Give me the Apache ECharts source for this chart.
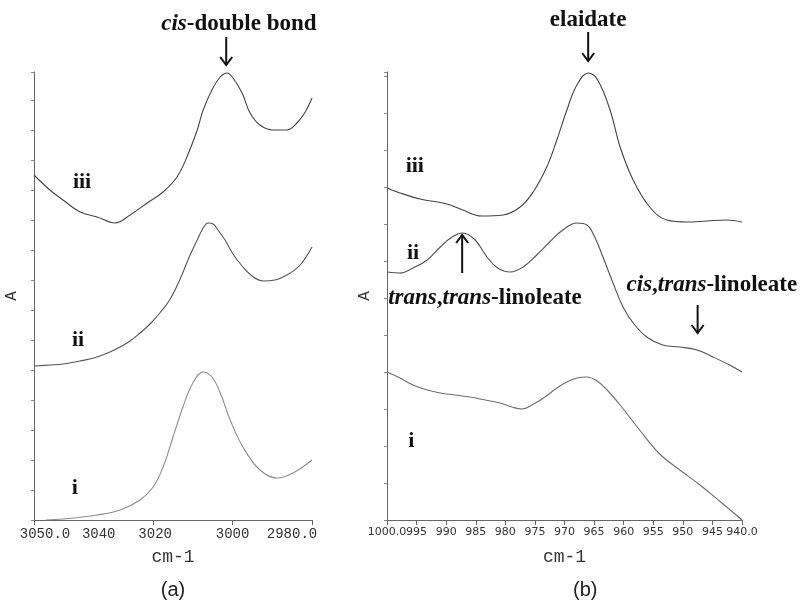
<!DOCTYPE html>
<html>
<head>
<meta charset="utf-8">
<script src="https://cdn.jsdelivr.net/npm/echarts@6/dist/echarts.min.js"></script>
<style>
  html, body { margin: 0; background: #fff; }
  #chart { width: 807px; height: 600px; }
</style>
</head>
<body>
<div id="chart"></div>
<script>
// (a) 3050-2980 cm-1 region, [wavenumber, absorbance (arb.)]
const aIii = [[3050, 3.45], [3046, 3.30], [3042.7, 3.20], [3038.4, 3.08], [3034.1, 3.03], [3029.6, 2.97], [3025.8, 3.05], [3021.5, 3.17], [3017.5, 3.28], [3014, 3.43], [3011.5, 3.63], [3008.9, 3.90], [3007.4, 4.10], [3005.2, 4.30], [3003.1, 4.43], [3001.4, 4.47], [2999.9, 4.42], [2997.6, 4.27], [2995.6, 4.07], [2993.1, 3.95], [2989.8, 3.90], [2986.3, 3.90], [2983.8, 3.97], [2981.7, 4.08], [2980, 4.22]]
const aIi = [[3050, 1.54], [3046, 1.55], [3042.7, 1.56], [3038.4, 1.59], [3034.1, 1.63], [3030.9, 1.68], [3028.3, 1.73], [3025.8, 1.79], [3023.3, 1.87], [3020.8, 1.96], [3018.3, 2.07], [3015.7, 2.21], [3013.2, 2.41], [3010.7, 2.65], [3008.9, 2.80], [3007.4, 2.92], [3006.2, 2.97], [3004.9, 2.96], [3003.7, 2.90], [3001.9, 2.80], [2999.9, 2.66], [2997.6, 2.54], [2995.1, 2.44], [2992.3, 2.39], [2989.3, 2.40], [2986.3, 2.45], [2983, 2.55], [2980, 2.73]]
const aI = [[3047, 0.0], [3042.7, 0.01], [3034.1, 0.05], [3028.3, 0.10], [3023.3, 0.20], [3020, 0.33], [3017.5, 0.53], [3015, 0.83], [3012.5, 1.13], [3010, 1.37], [3007.4, 1.48], [3005.2, 1.43], [3003.1, 1.27], [3000.6, 1.00], [2997.4, 0.73], [2993.1, 0.50], [2988.8, 0.42], [2984.8, 0.47], [2980, 0.60]]

// (b) 1000-940 cm-1 region
const bIii = [[1000, 3.32], [997.8, 3.27], [994.4, 3.21], [989.9, 3.16], [987.2, 3.10], [984, 3.04], [980.4, 3.05], [977.5, 3.13], [975.3, 3.28], [973, 3.53], [971.3, 3.80], [969.6, 4.10], [967.9, 4.35], [966, 4.47], [964.4, 4.40], [962.3, 4.10], [960.6, 3.73], [958.4, 3.40], [955.6, 3.13], [952.7, 3.00], [949.3, 2.98], [945.9, 2.99], [942.6, 3.00], [940, 2.98]]
const bIi = [[1000, 2.48], [997.8, 2.47], [995.6, 2.52], [993.2, 2.60], [991, 2.73], [989, 2.83], [987.2, 2.87], [985.1, 2.80], [983.1, 2.63], [981.3, 2.52], [979.2, 2.48], [977, 2.53], [974.7, 2.65], [972.5, 2.78], [970.3, 2.90], [967.9, 2.97], [966.2, 2.95], [964.9, 2.83], [963.5, 2.63], [961.8, 2.37], [960.1, 2.13], [958.4, 1.97], [956.1, 1.83], [953.4, 1.75], [950.5, 1.73], [947.6, 1.70], [944.9, 1.63], [942.1, 1.55], [940, 1.48]]
const bI = [[1000, 1.48], [997.8, 1.42], [995.6, 1.35], [993.2, 1.30], [991, 1.27], [988.5, 1.25], [986, 1.23], [983.4, 1.20], [980.9, 1.17], [978.9, 1.13], [977.2, 1.11], [975.5, 1.15], [973.3, 1.23], [971.3, 1.32], [969.6, 1.38], [967.9, 1.42], [966.2, 1.43], [964.5, 1.39], [962.8, 1.30], [960.6, 1.15], [957.3, 0.90], [953.9, 0.66], [950.5, 0.50], [947.1, 0.35], [943.8, 0.19], [940, 0.00]]

// axis ticks and labels
const ticksA = [3050, 3040, 3020, 3000, 2980]
const tickLabelsA = ['3050.0', '3040', '3020', '3000', '2980.0']
const tickMarksA = [3050, 3020, 3000, 2980]
const ticksB = [1000, 995, 990, 985, 980, 975, 970, 965, 960, 955, 950, 945, 940]
const tickLabelsB = ['1000.0', '995', '990', '985', '980', '975', '970', '965', '960', '955', '950', '945', '940.0']

// spectrum labels and annotations, positioned in data coords
const curveNames = ['iii', 'ii', 'i']
const namePosA = [[3037.9, 3.38], [3038.9, 1.80], [3039.7, 0.32]]
const namePosB = [[995.3, 3.54], [995.6, 2.67], [995.9, 0.79]]

const chart = echarts.init(document.getElementById('chart'))

const monoFont = 'Liberation Mono'
const axisGray = '#666'

// label shifts for the cramped left axis (px)
const shiftA = [11, 25, 2, 0, -20]
const richA = {}
shiftA.forEach((s, i) => {
  richA['s' + i] = {
    fontFamily: monoFont, fontSize: 14, color: '#333',
    padding: s >= 0 ? [0, 0, 0, 2 * s] : [0, -2 * s, 0, 0]
  }
})

function xAxisFor(grid, min, max, values, labels, marks, font) {
  return {
    gridIndex: grid, type: 'value', min, max, inverse: true,
    axisLine: { show: true, onZero: false, lineStyle: { color: axisGray } },
    axisTick: { show: true, customValues: marks, length: 5, lineStyle: { color: axisGray } },
    axisLabel: {
      customValues: values, margin: 7,
      showMinLabel: true, showMaxLabel: true, hideOverlap: false,
      fontFamily: font.family, fontSize: font.size, color: '#333',
      formatter: font.rich
        ? (v) => { const i = values.indexOf(v); return '{s' + i + '|' + labels[i] + '}' }
        : (v) => labels[values.indexOf(v)],
      rich: font.rich || {}
    },
    splitLine: { show: false },
    name: 'cm-1', nameLocation: 'middle', nameGap: 28,
    nameTextStyle: { fontFamily: monoFont, fontSize: 18, color: '#333' }
  }
}

function yAxisFor(grid, interval) {
  return {
    gridIndex: grid, type: 'value', min: 0, max: 4.48, interval,
    axisLine: { show: true, lineStyle: { color: axisGray } },
    axisTick: { show: true, length: 3, lineStyle: { color: '#888' } },
    axisLabel: { show: false },
    splitLine: { show: false },
    name: 'A', nameLocation: 'middle', nameGap: 14,
    nameTextStyle: { fontFamily: monoFont, fontSize: 16, color: '#333' }
  }
}

function spectrum(data, grid, color) {
  return {
    type: 'line', xAxisIndex: grid, yAxisIndex: grid, data,
    smooth: 0.4, symbol: 'none', silent: true,
    lineStyle: { color, width: 1.1 }
  }
}

chart.setOption({
  backgroundColor: '#fff',
  animation: false,
  grid: [
    { left: 34, top: 72, width: 278, height: 448, outerBoundsMode: 'none' },
    { left: 387, top: 72, width: 355, height: 448, outerBoundsMode: 'none' }
  ],
  xAxis: [
    xAxisFor(0, 2980, 3050, ticksA, tickLabelsA, tickMarksA, { family: monoFont, size: 14, rich: richA }),
    xAxisFor(1, 940, 1000, ticksB, tickLabelsB, ticksB, { family: 'DejaVu Sans', size: 11 })
  ],
  yAxis: [yAxisFor(0, 0.3), yAxisFor(1, 0.37)],
  series: [
    spectrum(aIii, 0, '#444'),
    spectrum(aIi, 0, '#555'),
    spectrum(aI, 0, '#8c8c8c'),
    spectrum(bIii, 1, '#444'),
    spectrum(bIi, 1, '#505050'),
    spectrum(bI, 1, '#6e6e6e')
  ]
})

// ---- annotations (placed after layout so they follow the axes) ----
const px = (grid, p) => chart.convertToPixel({ gridIndex: grid }, p)
const serif = 'Liberation Serif'
const richSerif = {
  it: { fontFamily: serif, fontSize: 23, fontStyle: 'italic', fontWeight: 'bold', fill: '#111' },
  b: { fontFamily: serif, fontSize: 23, fontWeight: 'bold', fill: '#111' },
  n: { fontFamily: serif, fontSize: 22, fontWeight: 'bold', fill: '#111' }
}

function label(grid, pos, text, align) {
  const [x, y] = px(grid, pos)
  return {
    type: 'text', x, y, silent: true,
    style: { text, rich: richSerif, align: align || 'center', verticalAlign: 'middle' }
  }
}

function arrow(grid, tail, tip) {
  const [x, y1] = px(grid, tail)
  const [, y2] = px(grid, tip)
  const d = y2 > y1 ? -1 : 1
  return {
    type: 'group', silent: true,
    children: [
      { type: 'line', shape: { x1: x, y1, x2: x, y2 }, style: { stroke: '#111', lineWidth: 2 } },
      { type: 'polyline', shape: { points: [[x - 6, y2 + d * 8], [x, y2], [x + 6, y2 + d * 8]] }, style: { stroke: '#111', lineWidth: 2, fill: null } }
    ]
  }
}

const graphics = []
curveNames.forEach((n, i) => {
  graphics.push(label(0, namePosA[i], '{n|' + n + '}'))
  graphics.push(label(1, namePosB[i], '{n|' + n + '}'))
})
graphics.push(label(0, [2998.4, 4.96], '{it|cis}{b|-double bond}'))
graphics.push(arrow(0, [3001.6, 4.83], [3001.6, 4.55]))
graphics.push(label(1, [966, 5.0], '{b|elaidate}'))
graphics.push(arrow(1, [966, 4.88], [966, 4.59]))
graphics.push(label(1, [999.8, 2.22], '{it|trans}{b|,}{it|trans}{b|-linoleate}', 'left'))
graphics.push(arrow(1, [987.3, 2.47], [987.3, 2.85]))
graphics.push(label(1, [945.1, 2.35], '{it|cis}{b|,}{it|trans}{b|-linoleate}'))
graphics.push(arrow(1, [947.5, 2.15], [947.5, 1.87]))

// panel captions
const capA = px(0, [3015, 0])
const capB = px(1, [966.5, 0])
graphics.push({ type: 'text', x: capA[0], y: 590, silent: true, style: { text: '(a)', font: '20px "Liberation Sans"', fill: '#222', align: 'center', verticalAlign: 'middle' } })
graphics.push({ type: 'text', x: capB[0], y: 590, silent: true, style: { text: '(b)', font: '20px "Liberation Sans"', fill: '#222', align: 'center', verticalAlign: 'middle' } })

chart.setOption({ graphic: graphics })
</script>
</body>
</html>
